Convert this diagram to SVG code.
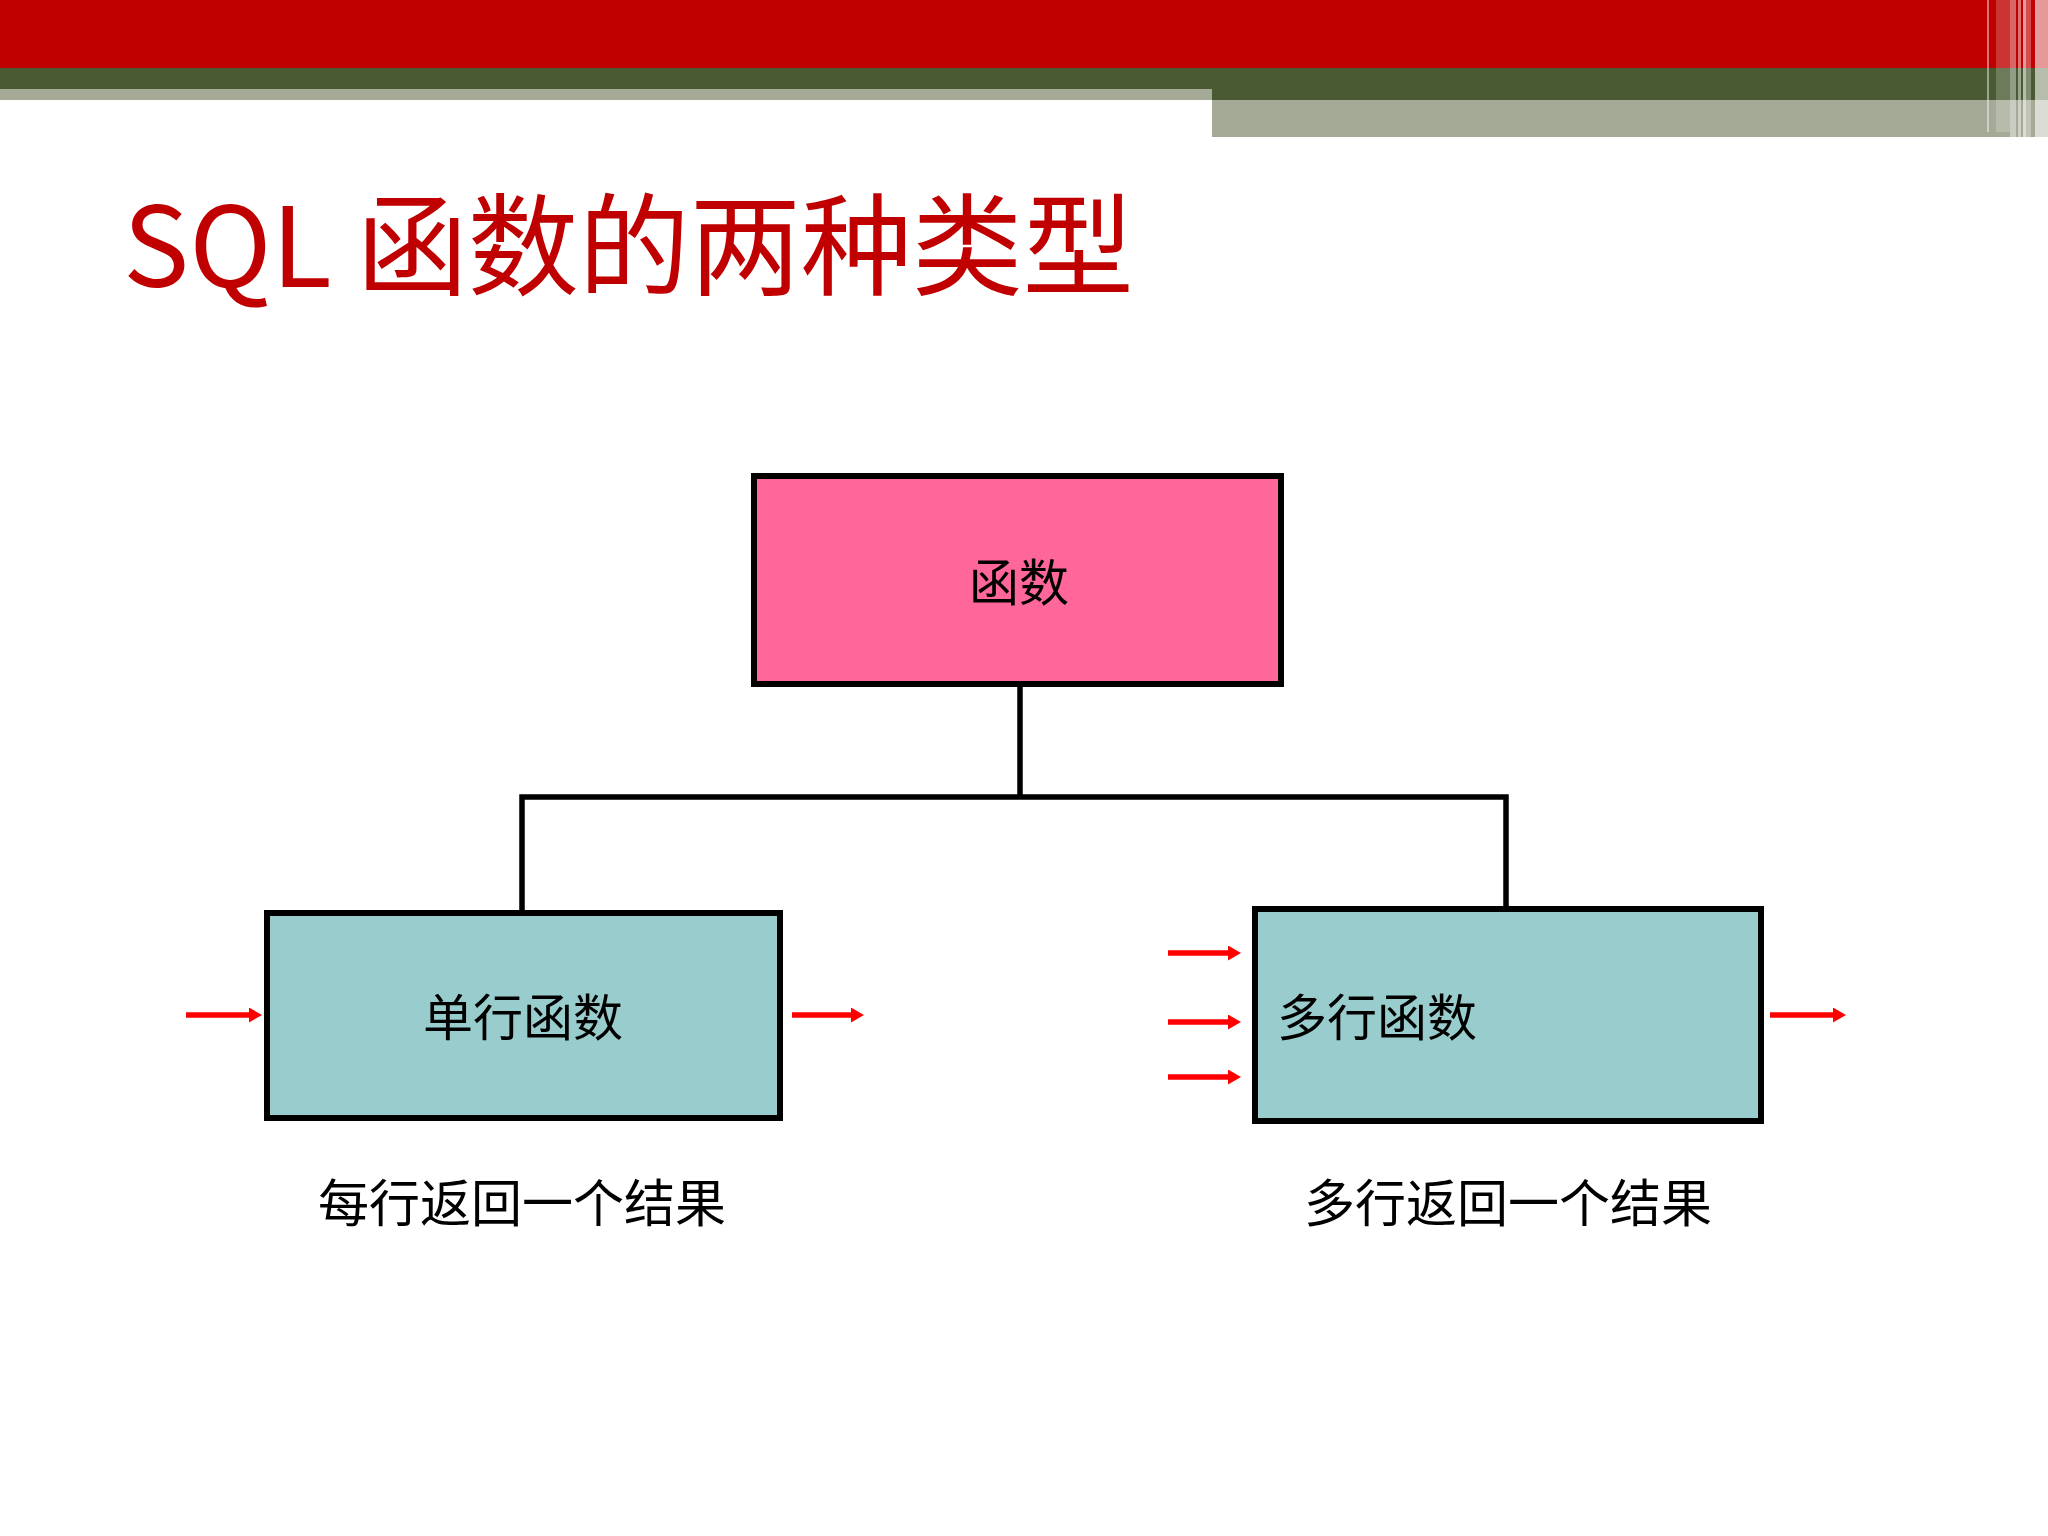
<svg xmlns="http://www.w3.org/2000/svg" width="2048" height="1536" viewBox="0 0 2048 1536">
  <style>
    .box { stroke: #000000; stroke-width: 6; }
    .lbl { font-family: "Noto Sans CJK SC", "Noto Sans", sans-serif; font-size: 50px; fill: #000000; }
    .cap { font-family: "Noto Sans CJK SC", "Noto Sans", sans-serif; font-size: 51px; fill: #000000; text-anchor: middle; }
    .conn { fill: none; stroke: #000000; stroke-width: 5.5; stroke-linejoin: miter; }
    .arr { stroke: #FF0000; stroke-width: 5.5; marker-end: url(#ah); }
  </style>
  <defs>
    <marker id="ah" markerUnits="userSpaceOnUse" markerWidth="13" markerHeight="15" refX="2" refY="7.5" orient="auto">
      <path d="M0,0 L13,7.5 L0,15 z" fill="#FF0000"/>
    </marker>
  </defs>
  <rect width="2048" height="1536" fill="#FFFFFF"/>
  <g id="header">
    <rect x="0" y="0" width="2048" height="68" fill="#C00000"/>
    <rect x="0" y="68" width="1212" height="21" fill="#4A5A32"/>
    <rect x="0" y="89" width="1212" height="11" fill="#A5AA96"/>
    <rect x="1212" y="68" width="836" height="32" fill="#4A5A32"/>
    <rect x="1212" y="100" width="836" height="37" fill="#A5AA96"/>
    <rect x="1987" y="0" width="2" height="132" fill="#FFFFFF" opacity="0.45"/>
    <rect x="1996" y="0" width="14" height="132" fill="#FFFFFF" opacity="0.2"/>
    <rect x="2010" y="0" width="6" height="137" fill="#FFFFFF" opacity="0.4"/>
    <rect x="2018" y="0" width="3" height="137" fill="#FFFFFF" opacity="0.45"/>
    <rect x="2023" y="0" width="3" height="137" fill="#FFFFFF" opacity="0.6"/>
    <rect x="2026" y="0" width="5" height="137" fill="#FFFFFF" opacity="0.3"/>
    <rect x="2035" y="0" width="13" height="137" fill="#FFFFFF" opacity="0.6"/>
  </g>
  <text id="title" x="123" y="287" font-family="'Noto Sans CJK SC', 'Noto Sans', sans-serif" font-size="111" fill="#C00000">SQL 函数的两种类型</text>
  <g id="connectors">
    <path class="conn" d="M1020,687 V797"/>
    <path class="conn" d="M522,910 V797 H1506 V906"/>
    <line class="arr" x1="186" y1="1015" x2="251" y2="1015"/>
    <line class="arr" x1="792" y1="1015" x2="853" y2="1015"/>
    <line class="arr" x1="1168" y1="953" x2="1230" y2="953"/>
    <line class="arr" x1="1168" y1="1022" x2="1230" y2="1022"/>
    <line class="arr" x1="1168" y1="1077" x2="1230" y2="1077"/>
    <line class="arr" x1="1770" y1="1015" x2="1835" y2="1015"/>
  </g>
  <g id="node-func">
    <rect class="box" x="754" y="476" width="527" height="208" fill="#FF6699"/>
    <text class="lbl" x="1019" y="601" text-anchor="middle">函数</text>
  </g>
  <g id="node-single">
    <rect class="box" x="267" y="913" width="513" height="205" fill="#99CCCC"/>
    <text class="lbl" x="523" y="1036" text-anchor="middle">单行函数</text>
  </g>
  <g id="node-multi">
    <rect class="box" x="1255" y="909" width="506" height="212" fill="#99CCCC"/>
    <text class="lbl" x="1277" y="1036">多行函数</text>
  </g>
  <g id="caption-single">
    <text class="cap" x="522" y="1222">每行返回一个结果</text>
  </g>
  <g id="caption-multi">
    <text class="cap" x="1508" y="1222">多行返回一个结果</text>
  </g>
</svg>
